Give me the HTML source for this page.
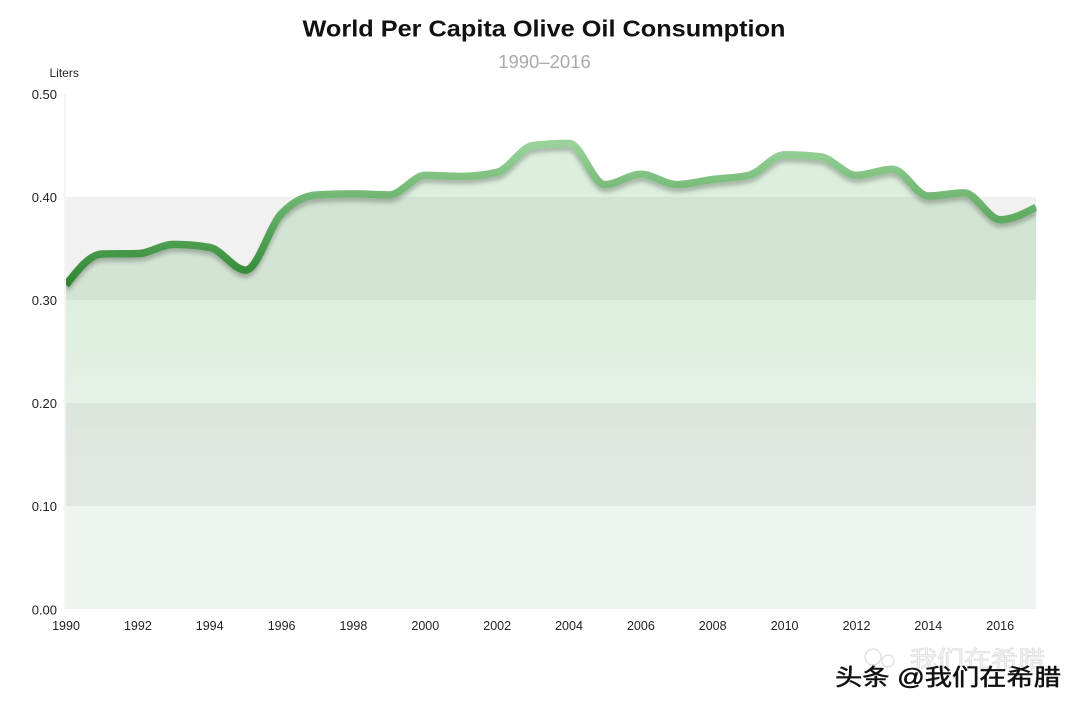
<!DOCTYPE html>
<html>
<head>
<meta charset="utf-8">
<style>
html,body{margin:0;padding:0;background:#fff;}
body{width:1080px;height:710px;overflow:hidden;}
svg{display:block;}
text{font-family:"Liberation Sans","Noto Sans CJK SC",sans-serif;}
</style>
</head>
<body>
<svg width="1080" height="710" viewBox="0 0 1080 710" xmlns="http://www.w3.org/2000/svg">
  <defs>
    <linearGradient id="lineGrad" gradientUnits="userSpaceOnUse" x1="0" y1="143" x2="0" y2="287">
      <stop offset="0" stop-color="#9ad39a"/>
      <stop offset="0.5" stop-color="#62ad64"/>
      <stop offset="1" stop-color="#2c8531"/>
    </linearGradient>
    <linearGradient id="areaGrad" gradientUnits="userSpaceOnUse" x1="0" y1="143" x2="0" y2="609">
      <stop offset="0" stop-color="rgb(110,190,115)" stop-opacity="0.25"/>
      <stop offset="0.45" stop-color="rgb(125,188,128)" stop-opacity="0.25"/>
      <stop offset="0.67" stop-color="rgb(150,190,152)" stop-opacity="0.16"/>
      <stop offset="1" stop-color="rgb(142,182,155)" stop-opacity="0.15"/>
    </linearGradient>
    <filter id="shadow" filterUnits="userSpaceOnUse" x="0" y="0" width="1080" height="710">
      <feDropShadow dx="0" dy="4" stdDeviation="2" flood-color="#000" flood-opacity="0.24"/>
    </filter>
    <clipPath id="plotClip">
      <rect x="66" y="80" width="970.5" height="529"/>
    </clipPath>
  </defs>

  <!-- title -->
  <text x="544" y="36.5" text-anchor="middle" font-size="23" font-weight="bold" fill="#111" textLength="483" lengthAdjust="spacingAndGlyphs">World Per Capita Olive Oil Consumption</text>
  <text x="544.5" y="68" text-anchor="middle" font-size="18.5" fill="#aaa">1990–2016</text>

  <!-- axis title -->
  <text x="49.5" y="77" font-size="12" fill="#222">Liters</text>

  <!-- bands -->
  <rect x="66" y="94" width="970" height="515" fill="#ffffff"/>
  <rect x="66" y="197" width="970" height="103" fill="#f1f1f1"/>
  <rect x="66" y="403" width="970" height="103" fill="#efefef"/>
  <line x1="65" y1="94" x2="65" y2="609" stroke="#f0f0f0" stroke-width="1.5"/>

  <!-- area -->
  <path fill="url(#areaGrad)" d="M66,285 C77.98,269.63 89.95,254.27 101.93,254.0 C113.91,253.73 125.88,253.87 137.86,253.6 C149.84,253.33 161.81,244.4 173.79,244.4 C185.77,244.4 197.74,245.43 209.72,247.5 C221.70,249.57 233.67,270.1 245.65,270.1 C257.63,270.1 269.60,225.9 281.58,213.5 C293.56,201.1 305.53,195.57 317.51,194.9 C329.49,194.23 341.46,193.9 353.44,193.9 C365.42,193.9 377.39,194.9 389.37,194.9 C401.35,194.9 413.32,175.4 425.30,175.4 C437.28,175.4 449.25,176.4 461.23,176.4 C473.21,176.4 485.18,175.03 497.16,172.3 C509.14,169.57 521.11,146.9 533.09,145.5 C545.07,144.1 557.04,143.4 569.02,143.4 C581.0,143.4 592.97,184.6 604.95,184.6 C616.93,184.6 628.90,174.3 640.88,174.3 C652.86,174.3 664.83,184.6 676.81,184.6 C688.79,184.6 700.76,181.03 712.74,179.5 C724.72,177.97 736.69,178.13 748.67,175.4 C760.65,172.67 772.62,154.8 784.60,154.8 C796.58,154.8 808.55,155.47 820.53,156.8 C832.51,158.13 844.48,175.4 856.46,175.4 C868.44,175.4 880.41,169.2 892.39,169.2 C904.37,169.2 916.34,196.0 928.32,196.0 C940.30,196.0 952.27,192.9 964.25,192.9 C976.23,192.9 988.20,219.7 1000.18,219.7 C1012.16,219.7 1024.13,213.5 1036.11,207.3 L1036.11,609 L66,609 Z"/>

  <!-- line -->
  <g clip-path="url(#plotClip)">
  <path fill="none" stroke="url(#lineGrad)" stroke-width="7.5" stroke-linejoin="round" stroke-linecap="butt" filter="url(#shadow)" d="M66,285 C77.98,269.63 89.95,254.27 101.93,254.0 C113.91,253.73 125.88,253.87 137.86,253.6 C149.84,253.33 161.81,244.4 173.79,244.4 C185.77,244.4 197.74,245.43 209.72,247.5 C221.70,249.57 233.67,270.1 245.65,270.1 C257.63,270.1 269.60,225.9 281.58,213.5 C293.56,201.1 305.53,195.57 317.51,194.9 C329.49,194.23 341.46,193.9 353.44,193.9 C365.42,193.9 377.39,194.9 389.37,194.9 C401.35,194.9 413.32,175.4 425.30,175.4 C437.28,175.4 449.25,176.4 461.23,176.4 C473.21,176.4 485.18,175.03 497.16,172.3 C509.14,169.57 521.11,146.9 533.09,145.5 C545.07,144.1 557.04,143.4 569.02,143.4 C581.0,143.4 592.97,184.6 604.95,184.6 C616.93,184.6 628.90,174.3 640.88,174.3 C652.86,174.3 664.83,184.6 676.81,184.6 C688.79,184.6 700.76,181.03 712.74,179.5 C724.72,177.97 736.69,178.13 748.67,175.4 C760.65,172.67 772.62,154.8 784.60,154.8 C796.58,154.8 808.55,155.47 820.53,156.8 C832.51,158.13 844.48,175.4 856.46,175.4 C868.44,175.4 880.41,169.2 892.39,169.2 C904.37,169.2 916.34,196.0 928.32,196.0 C940.30,196.0 952.27,192.9 964.25,192.9 C976.23,192.9 988.20,219.7 1000.18,219.7 C1012.16,219.7 1024.13,213.5 1036.11,207.3"/>
  </g>

  <!-- y labels -->
  <g font-size="13" fill="#222" text-anchor="end">
    <text x="57" y="99">0.50</text>
    <text x="57" y="202">0.40</text>
    <text x="57" y="305">0.30</text>
    <text x="57" y="408">0.20</text>
    <text x="57" y="511">0.10</text>
    <text x="57" y="614.5">0.00</text>
  </g>

  <!-- x labels -->
  <g font-size="12.5" fill="#222" text-anchor="middle">
    <text x="66" y="630">1990</text>
    <text x="137.9" y="630">1992</text>
    <text x="209.7" y="630">1994</text>
    <text x="281.6" y="630">1996</text>
    <text x="353.4" y="630">1998</text>
    <text x="425.3" y="630">2000</text>
    <text x="497.2" y="630">2002</text>
    <text x="569" y="630">2004</text>
    <text x="640.9" y="630">2006</text>
    <text x="712.7" y="630">2008</text>
    <text x="784.6" y="630">2010</text>
    <text x="856.5" y="630">2012</text>
    <text x="928.3" y="630">2014</text>
    <text x="1000.2" y="630">2016</text>
  </g>

  <!-- watermarks -->
  <g opacity="0.85">
    <circle cx="873" cy="657" r="8" fill="none" stroke="#d8d8d8" stroke-width="1.3"/>
    <circle cx="888" cy="661" r="6" fill="none" stroke="#d8d8d8" stroke-width="1.3"/>
    <text x="910" y="667" font-size="23" fill="#f4f4f4" stroke="#cfcfcf" stroke-width="0.6" textLength="135" lengthAdjust="spacingAndGlyphs">我们在希腊</text>
  </g>
  <text x="836.5" y="686.5" font-size="23" fill="#fff" textLength="226" lengthAdjust="spacingAndGlyphs">头条 @我们在希腊</text>
  <text x="835" y="685" font-size="23" fill="#111" stroke="#111" stroke-width="0.5" textLength="226" lengthAdjust="spacingAndGlyphs">头条 @我们在希腊</text>
</svg>
</body>
</html>
